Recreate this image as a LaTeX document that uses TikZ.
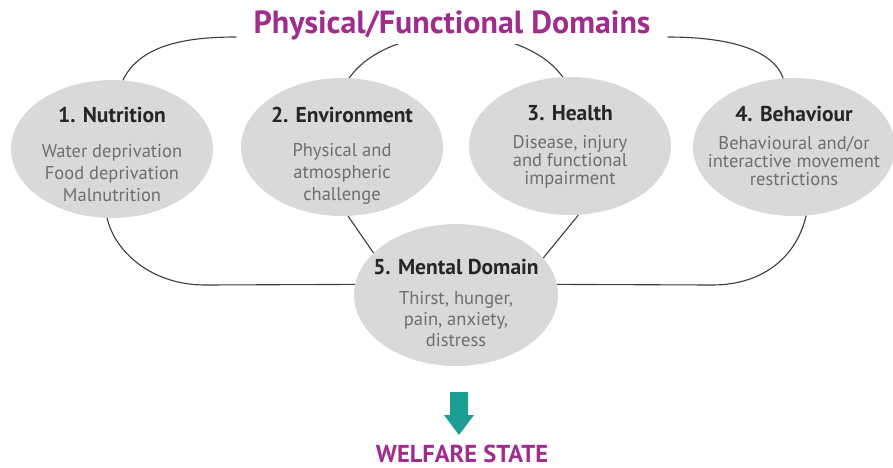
\documentclass[tikz,border=0pt]{standalone}
\usepackage{fontspec}
\setmainfont{PT Sans}
\usetikzlibrary{shapes.geometric}

\definecolor{plum}{HTML}{A02C8C}
\definecolor{blob}{HTML}{D9D9D9}
\definecolor{ink}{HTML}{262626}
\definecolor{softink}{HTML}{6E6E6E}
\definecolor{wirecol}{HTML}{3C3C3C}
\definecolor{sea}{HTML}{1C9E95}

% heading of a domain; #1 = room kept above it
\newcommand{\domhead}[2]{{\fontsize{21.5}{22}\selectfont\bfseries\color{ink}\rule{0pt}{#1}#2}}

\begin{document}
\begin{tikzpicture}[x=1pt,y=-1pt,
    domainblob/.style={ellipse, fill=blob, minimum width=202pt, minimum height=138pt,
      inner sep=-40pt, align=center, text=softink, font=\fontsize{18.5}{22}\selectfont},
    wire/.style={draw=wirecol, line width=1.1pt}]
\useasboundingbox (0,0) rectangle (893,467);

% the five domains
\node[domainblob] (nutr) at (112,149) {\domhead{32pt}{1. Nutrition}\\[13pt] Water deprivation\\ Food deprivation\\ Malnutrition\strut};
\node[domainblob] (env) at (342,147) {\domhead{35pt}{2. Environment}\\[12pt] Physical and\\ atmospheric\\ challenge\strut};
\node[domainblob, font=\fontsize{18.5}{18}\selectfont] (hlth) at (570,146) {\domhead{18pt}{3. Health}\\[10pt] Disease, injury\\ and functional\\ impairment\strut};
\node[domainblob, font=\fontsize{18.5}{18}\selectfont] (behav) at (794,147) {\domhead{17.5pt}{4. Behaviour}\\[10pt] Behavioural and/or\\ interactive movement\\ restrictions\strut};
\node[domainblob, minimum width=204pt, minimum height=142pt, font=\fontsize{18.5}{21}\selectfont] (mental) at (456,295) {\domhead{38pt}{5. Mental Domain}\\[9pt] Thirst, hunger,\\ pain, anxiety,\\ distress\strut};

% physical/functional loop
\draw[wire] (env.84) .. controls (390,20) and (522,20) .. (hlth.96);
\node[fill=white, inner xsep=17pt, inner ysep=4pt, text=plum,
  font=\fontsize{32}{34}\selectfont\bfseries, anchor=base] (title) at (452,33) {Physical/Functional Domains};
\draw[wire] (nutr.81) .. controls (140,45) and (185,37) .. ([yshift=-4pt]title.base west);
\draw[wire] ([yshift=-4pt]title.base east) .. controls (722,37) and (772,47) .. (behav.99);

% links down to the mental domain
\draw[wire] (nutr.-94) .. controls (114,250) and (150,285) .. (205,285) -- (mental.174);
\draw[wire] (mental.6) -- (712,285) .. controls (765,285) and (797,255) .. (behav.-80);
\draw[wire] (env.-85) -- (mental.153);
\draw[wire] (hlth.-83) -- (mental.23);

% outcome
\fill[sea] (450,392) -- (468,392) -- (468,415) -- (474,415) -- (459,435) -- (444,415) -- (450,415) -- cycle;
\node[text=plum, font=\fontsize{24.5}{26}\selectfont\bfseries, anchor=base] (welfare) at (462,462) {WELFARE STATE};
\end{tikzpicture}
\end{document}
